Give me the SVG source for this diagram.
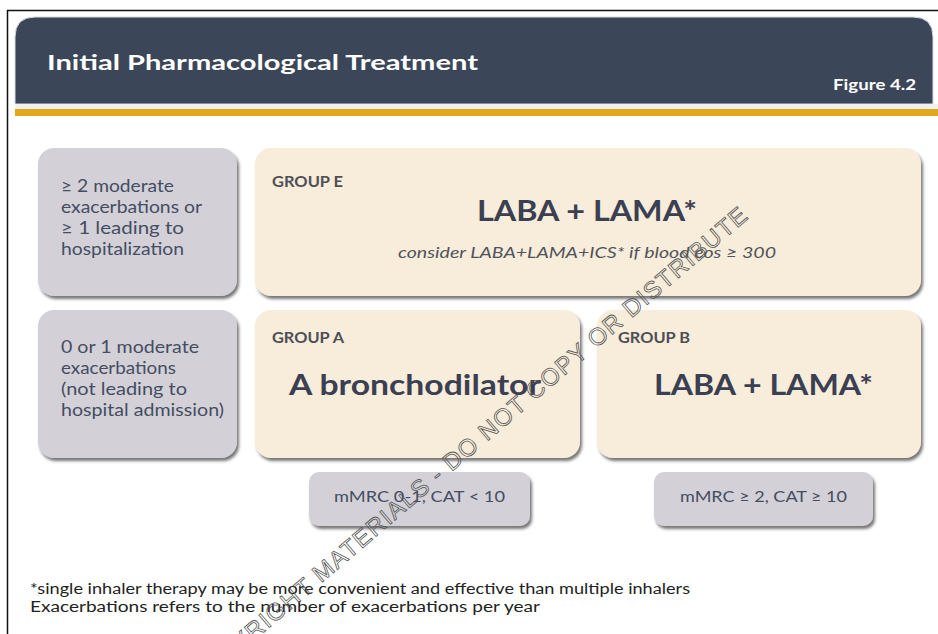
<svg xmlns="http://www.w3.org/2000/svg" width="938" height="634" viewBox="0 0 938 634">
<style>
 text{font-family:Lato,"Liberation Sans",sans-serif}
 .crit{fill:#d3d1d7}
 .grp{fill:#f8ecda}
 .lab{font-size:16.5px;fill:#454d63}
 .gname{font-size:15.5px;font-weight:bold;fill:#4d4f55}
 .big{font-size:29px;font-weight:bold;fill:#3a4052}
 .note{font-size:15.5px;font-style:italic;fill:#50535c}
 .sym{font-size:15px;fill:#454d63}
 .foot{font-size:14.5px;fill:#222}
 .wm{font-family:"Liberation Sans",sans-serif;font-size:24px;fill:none;stroke:#555;stroke-width:0.8}
</style>
<defs>
 <filter id="sh" x="-5%" y="-5%" width="115%" height="125%">
  <feDropShadow dx="2" dy="3" stdDeviation="1.6" flood-color="#4a4a4a" flood-opacity="0.75"/>
 </filter>
</defs>
<rect x="0" y="0" width="938" height="634" fill="#ffffff"/>
<rect x="7.5" y="10.5" width="940" height="640" fill="#ffffff" stroke="#111" stroke-width="1.5"/>
<g id="header">
 <path d="M15,104 L15,37 Q15,17 35,17 L913,17 Q933,17 933,37 L933,104 Z" fill="#3b4659" stroke="#d8dbe0" stroke-width="1"/>
 <rect x="15" y="104" width="923" height="5" fill="#f1f1f1"/>
 <rect x="15" y="109" width="923" height="7" fill="#e2a81c"/>
 <text x="47" y="70" font-size="21.5" font-weight="bold" fill="#ffffff" textLength="431" lengthAdjust="spacingAndGlyphs">Initial Pharmacological Treatment</text>
 <text x="833" y="90" font-size="14.5" font-weight="bold" fill="#ffffff" textLength="83" lengthAdjust="spacingAndGlyphs">Figure 4.2</text>
</g>
<g id="crit-high">
 <rect class="crit" x="38" y="148" width="199" height="148" rx="16" filter="url(#sh)"/>
 <text class="lab" x="61" y="192" textLength="113" lengthAdjust="spacingAndGlyphs">≥ 2 moderate</text>
 <text class="lab" x="61" y="213" textLength="141" lengthAdjust="spacingAndGlyphs">exacerbations or</text>
 <text class="lab" x="61" y="234" textLength="123" lengthAdjust="spacingAndGlyphs">≥ 1 leading to</text>
 <text class="lab" x="61" y="255" textLength="123" lengthAdjust="spacingAndGlyphs">hospitalization</text>
</g>
<g id="group-e">
 <rect class="grp" x="255" y="148" width="666" height="148" rx="16" filter="url(#sh)"/>
 <text class="gname" x="272" y="187" textLength="71" lengthAdjust="spacingAndGlyphs">GROUP E</text>
 <text class="big" x="477" y="221" textLength="220" lengthAdjust="spacingAndGlyphs">LABA + LAMA*</text>
 <text class="note" x="398" y="258" textLength="378" lengthAdjust="spacingAndGlyphs">consider LABA+LAMA+ICS* if blood eos ≥ 300</text>
</g>
<g id="crit-low">
 <rect class="crit" x="38" y="310" width="199" height="148" rx="16" filter="url(#sh)"/>
 <text class="lab" x="61" y="353" textLength="138" lengthAdjust="spacingAndGlyphs">0 or 1 moderate</text>
 <text class="lab" x="61" y="374" textLength="115" lengthAdjust="spacingAndGlyphs">exacerbations</text>
 <text class="lab" x="61" y="395" textLength="126" lengthAdjust="spacingAndGlyphs">(not leading to</text>
 <text class="lab" x="61" y="416" textLength="163" lengthAdjust="spacingAndGlyphs">hospital admission)</text>
</g>
<g id="group-a">
 <rect class="grp" x="255" y="310" width="325" height="148" rx="16" filter="url(#sh)"/>
 <text class="gname" x="272" y="343" textLength="72" lengthAdjust="spacingAndGlyphs">GROUP A</text>
 <text class="big" x="289" y="395" textLength="252" lengthAdjust="spacingAndGlyphs">A bronchodilator</text>
</g>
<g id="group-b">
 <rect class="grp" x="597" y="310" width="324" height="148" rx="16" filter="url(#sh)"/>
 <text class="gname" x="618" y="343" textLength="72" lengthAdjust="spacingAndGlyphs">GROUP B</text>
 <text class="big" x="654" y="395" textLength="219" lengthAdjust="spacingAndGlyphs">LABA + LAMA*</text>
</g>
<g id="symptoms-low">
 <rect class="crit" x="309" y="472" width="221" height="54" rx="10" filter="url(#sh)"/>
 <text class="sym" x="334" y="502" textLength="171" lengthAdjust="spacingAndGlyphs">mMRC 0-1, CAT &lt; 10</text>
</g>
<g id="symptoms-high">
 <rect class="crit" x="654" y="472" width="219" height="54" rx="10" filter="url(#sh)"/>
 <text class="sym" x="680" y="502" textLength="167" lengthAdjust="spacingAndGlyphs">mMRC ≥ 2, CAT ≥ 10</text>
</g>
<g id="connectors"></g>
<g id="footnotes">
 <text class="foot" x="30" y="594" textLength="660" lengthAdjust="spacingAndGlyphs">*single inhaler therapy may be more convenient and effective than multiple inhalers</text>
 <text class="foot" x="30" y="612" textLength="510" lengthAdjust="spacingAndGlyphs">Exacerbations refers to the number of exacerbations per year</text>
</g>
<g id="watermark">
 <text class="wm" x="0" y="0" text-anchor="end" textLength="725" lengthAdjust="spacing" transform="translate(749,218) rotate(-40.5)">COPYRIGHT MATERIALS - DO NOT COPY OR DISTRIBUTE</text>
</g>
</svg>
